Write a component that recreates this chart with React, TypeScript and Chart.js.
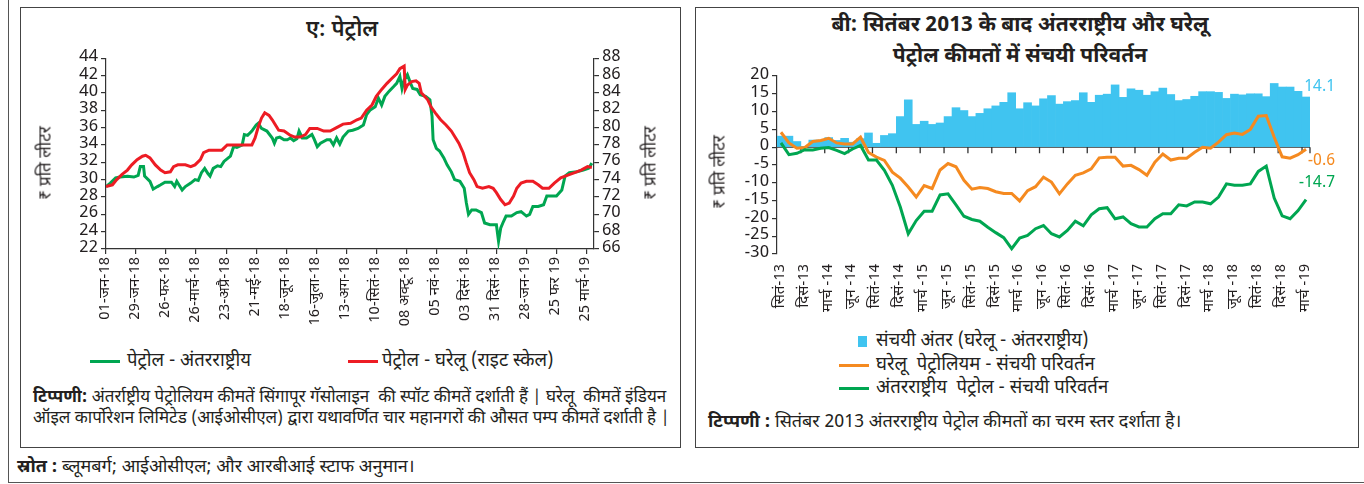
import React, { useEffect, useRef } from 'react';
import { Chart, registerables } from 'chart.js';
Chart.register(...registerables);

const FONT = "'Liberation Sans Narrow', 'Noto Sans Devanagari', 'Noto Sans', 'DejaVu Sans', sans-serif";
const TXT = '#231f20';

// ---------- Panel A: petrol prices (day offsets from 01-Jan-2018) ----------
const leftTickDays = [0, 28, 56, 84, 112, 140, 168, 196, 224, 252, 280, 308, 336, 364, 392, 420, 448];
const leftTickLabels = ['01-जन-18', '29-जन-18', '26-फर-18', '26-मार्च-18', '23-अप्रै-18', '21-मई-18', '18-जून-18', '16-जुला-18', '13-अग-18', '10-सितं-18', '08 अक्टू-18', '05 नवं-18', '03 दिसं-18', '31 दिसं-18', '28-जन-19', '25 फर 19', '25 मार्च-19'];

const intlDays = [0, 4, 9, 13, 20, 26, 30, 32, 35, 36, 41, 44, 48, 51, 55, 61, 64, 66, 69, 71, 74, 79, 83, 86, 89, 92, 95, 97, 100, 104, 107, 110, 116, 119, 122, 127, 129, 132, 136, 140, 142, 145, 150, 155, 157, 159, 162, 166, 169, 172, 175, 178, 180, 183, 187, 192, 194, 197, 200, 206, 209, 212, 215, 218, 221, 226, 230, 235, 240, 243, 246, 251, 254, 257, 260, 264, 268, 271, 274, 276, 278, 281, 284, 286, 290, 293, 298, 302, 304, 305, 308, 311, 315, 318, 322, 325, 330, 334, 336, 338, 341, 345, 350, 353, 358, 364, 366, 368, 370, 373, 378, 383, 387, 392, 395, 398, 403, 408, 411, 415, 420, 425, 428, 432, 439, 445, 450, 453];
const intlPrice = [29.2, 29.6, 30.2, 30.3, 30.4, 30.3, 30.5, 31.5, 31.5, 30.4, 29.8, 28.9, 29.2, 29.4, 29.7, 29.7, 29.2, 29.8, 29.2, 28.8, 29.2, 29.6, 30.0, 29.9, 30.8, 31.3, 30.7, 30.4, 31.3, 31.6, 31.5, 32.1, 32.7, 33.8, 33.7, 34.0, 35.2, 35.1, 35.6, 36.3, 36.5, 35.9, 35.6, 34.8, 34.2, 34.8, 34.9, 34.6, 34.6, 34.8, 34.5, 34.7, 35.6, 34.8, 34.8, 35.2, 34.7, 33.8, 34.2, 34.6, 34.6, 34.0, 34.8, 34.1, 34.9, 35.6, 35.7, 35.9, 36.3, 37.5, 38.0, 38.4, 39.4, 38.6, 39.6, 40.2, 40.7, 41.1, 41.9, 40.5, 41.5, 42.1, 41.1, 40.5, 40.4, 39.8, 39.6, 39.2, 37.3, 34.6, 33.6, 33.3, 32.5, 31.7, 30.9, 30.0, 29.8, 29.0, 27.3, 26.0, 26.5, 26.5, 26.2, 25.0, 24.8, 24.8, 22.9, 24.4, 25.0, 25.8, 25.8, 26.2, 26.3, 25.8, 26.0, 26.9, 26.9, 27.1, 28.1, 28.1, 28.1, 28.8, 30.4, 30.8, 30.9, 31.1, 31.3, 31.9];

const domDays = [0, 6, 10, 15, 20, 24, 29, 34, 37, 41, 46, 51, 55, 60, 63, 67, 74, 79, 83, 88, 91, 96, 102, 108, 113, 122, 131, 136, 139, 142, 145, 148, 152, 155, 158, 161, 166, 172, 176, 181, 186, 190, 197, 203, 209, 215, 221, 228, 234, 238, 243, 248, 252, 257, 262, 266, 271, 274, 278, 279, 281, 285, 289, 292, 294, 300, 303, 307, 312, 317, 322, 326, 329, 333, 336, 339, 343, 346, 351, 357, 361, 364, 368, 372, 376, 380, 383, 387, 392, 398, 403, 407, 413, 418, 424, 430, 437, 443, 449, 453];
const domPrice = [73.2, 73.4, 74.0, 74.6, 75.1, 75.7, 76.3, 76.7, 76.8, 76.5, 75.7, 75.1, 74.8, 74.9, 75.5, 75.7, 75.7, 75.5, 75.7, 76.3, 77.1, 77.4, 77.4, 77.4, 78.0, 78.0, 78.0, 78.0, 78.8, 80.1, 81.1, 81.7, 81.4, 80.9, 80.3, 79.7, 79.6, 79.1, 78.9, 78.9, 79.2, 79.9, 79.9, 79.6, 79.6, 80.0, 80.4, 80.5, 80.9, 81.1, 82.0, 82.6, 83.6, 84.4, 85.1, 85.6, 86.2, 86.8, 87.1, 84.4, 84.9, 85.3, 85.4, 85.1, 84.0, 83.2, 82.4, 81.7, 80.9, 80.3, 79.6, 78.8, 78.2, 77.1, 75.9, 74.8, 74.0, 73.2, 73.0, 73.2, 73.0, 72.5, 71.7, 71.1, 71.3, 72.1, 73.0, 73.6, 73.8, 73.8, 73.4, 73.0, 73.0, 73.6, 74.2, 74.5, 74.8, 75.1, 75.5, 75.4];

// ---------- Panel B: cumulative change since Sep-2013 (monthly) ----------
const months = [
  'सितं-13', 'अक्टू-13', 'नवं-13', 'दिसं-13', 'जन-14', 'फर-14', 'मार्च -14', 'अप्रै-14', 'मई-14', 'जून -14', 'जुला-14', 'अग-14',
  'सितं-14', 'अक्टू-14', 'नवं-14', 'दिसं-14', 'जन-15', 'फर-15', 'मार्च -15', 'अप्रै-15', 'मई-15', 'जून -15', 'जुला-15', 'अग-15',
  'सितं-15', 'अक्टू-15', 'नवं-15', 'दिसं-15', 'जन-16', 'फर-16', 'मार्च -16', 'अप्रै-16', 'मई-16', 'जून -16', 'जुला-16', 'अग-16',
  'सितं-16', 'अक्टू-16', 'नवं-16', 'दिसं-16', 'जन-17', 'फर-17', 'मार्च -17', 'अप्रै-17', 'मई-17', 'जून -17', 'जुला-17', 'अग-17',
  'सितं-17', 'अक्टू-17', 'नवं-17', 'दिसं-17', 'जन-18', 'फर-18', 'मार्च -18', 'अप्रै-18', 'मई-18', 'जून -18', 'जुला-18', 'अग-18',
  'सितं-18', 'अक्टू-18', 'नवं-18', 'दिसं-18', 'जन-19', 'फर-19', 'मार्च -19'
];
const gapBars = [3.1, 3.1, 1.6, 0.2, 2.0, 2.0, 2.7, 1.9, 2.5, 1.4, 2.4, 4.0, 1.1, 3.3, 3.8, 8.6, 13.3, 6.4, 7.3, 6.4, 6.8, 8.6, 11.1, 10.3, 8.6, 9.5, 10.8, 11.6, 12.6, 15.3, 10.8, 12.5, 11.6, 13.6, 14.5, 12.1, 12.8, 13.1, 15.3, 12.6, 14.6, 14.9, 17.5, 14.0, 16.4, 16.0, 14.6, 15.6, 16.6, 14.8, 13.1, 13.4, 14.3, 15.6, 15.6, 15.4, 13.7, 14.9, 14.7, 15.0, 15.0, 14.2, 17.9, 16.9, 16.9, 15.7, 14.1];
const domestic = [4.2, 1.2, -0.3, -0.1, 1.6, 1.9, 2.5, 1.2, 0.9, 0.9, 2.8, -1.5, -2.8, -3.7, -7.0, -8.7, -11.2, -14.0, -10.8, -11.6, -6.4, -4.6, -5.5, -9.3, -11.8, -11.3, -11.6, -12.5, -13.0, -13.0, -15.1, -12.2, -11.1, -8.4, -9.8, -13.1, -10.3, -7.9, -7.2, -6.1, -3.0, -2.8, -2.8, -5.3, -5.1, -6.3, -7.9, -4.2, -1.9, -3.6, -3.1, -3.1, -1.4, 0.0, -0.3, 1.4, 3.5, 4.0, 3.6, 5.0, 8.7, 8.9, 2.8, -2.7, -3.1, -2.1, -0.6];
const international = [1.2, -2.1, -1.7, -0.7, -0.8, -0.3, -0.1, -0.9, -1.8, -0.5, 0.5, -3.6, -3.6, -6.5, -10.7, -16.8, -24.3, -20.6, -18.0, -18.0, -13.4, -13.1, -16.2, -19.4, -20.3, -20.8, -22.5, -24.0, -25.4, -28.5, -25.5, -24.8, -22.9, -22.0, -24.3, -25.2, -23.4, -20.8, -22.1, -19.0, -17.3, -17.0, -20.1, -19.6, -21.5, -22.4, -22.4, -20.1, -18.7, -18.7, -16.2, -16.5, -15.4, -15.4, -15.9, -14.0, -10.3, -10.7, -10.7, -10.3, -6.8, -5.3, -14.3, -19.3, -20.1, -17.8, -14.7];

const GREEN = '#00a651';
const RED = '#ed1c24';
const ORANGE = '#f58a20';
const BLUE = '#40c4f0';
const AXIS = '#333333';

function LeftChart() {
  const ref = useRef<HTMLCanvasElement>(null);
  useEffect(() => {
    const chart = new Chart(ref.current as HTMLCanvasElement, {
      type: 'line',
      data: {
        datasets: [
          { label: 'dom', data: domDays.map((d, i) => ({ x: d, y: domPrice[i] })), yAxisID: 'y2', borderColor: RED, borderWidth: 3, pointRadius: 0, tension: 0, order: 1 },
          { label: 'intl', data: intlDays.map((d, i) => ({ x: d, y: intlPrice[i] })), yAxisID: 'y', borderColor: GREEN, borderWidth: 3, pointRadius: 0, tension: 0, order: 2 },
        ],
      },
      options: {
        animation: false,
        responsive: false,
        maintainAspectRatio: false,
        layout: { padding: { top: 13, left: 0, right: 0, bottom: 0 } },
        plugins: { legend: { display: false }, tooltip: { enabled: false } },
        scales: {
          x: {
            type: 'linear', min: 0, max: 455,
            afterBuildTicks: (axis: any) => { axis.ticks = leftTickDays.map((v) => ({ value: v })); },
            afterFit: (s: any) => { s.height = 86; },
            ticks: {
              autoSkip: false, minRotation: 90, maxRotation: 90, padding: 3, color: TXT,
              font: { family: FONT, size: 15 },
              callback: (v: any) => { const i = leftTickDays.indexOf(Number(v)); return i >= 0 ? leftTickLabels[i] : ''; },
            },
            grid: { drawOnChartArea: false, drawTicks: true, tickLength: 5, color: AXIS, lineWidth: 1.2 },
            border: { display: true, color: AXIS, width: 1.2 },
          },
          y: {
            position: 'left', min: 22, max: 44,
            afterFit: (s: any) => { s.width = 86; },
            ticks: { stepSize: 2, autoSkip: false, color: TXT, padding: 3, font: { family: FONT, size: 17 } },
            grid: { drawOnChartArea: false, drawTicks: true, tickLength: 5, color: AXIS, lineWidth: 1.2 },
            border: { display: true, color: AXIS, width: 1.2 },
          },
          y2: {
            position: 'right', min: 66, max: 88,
            afterFit: (s: any) => { s.width = 66; },
            ticks: { stepSize: 2, autoSkip: false, color: TXT, padding: 3, font: { family: FONT, size: 17 } },
            grid: { drawOnChartArea: false, drawTicks: true, tickLength: 5, color: AXIS, lineWidth: 1.2 },
            border: { display: true, color: AXIS, width: 1.2 },
          },
        },
      },
    } as any);
    return () => chart.destroy();
  }, []);
  return <canvas ref={ref} width={640} height={290} style={{ position: 'absolute', left: 20, top: 45, width: 640, height: 290 }} />;
}

const zeroLinePlugin = {
  id: 'zeroLine',
  beforeDatasetsDraw(chart: any) {
    const { ctx, chartArea, scales } = chart;
    const x = scales.x;
    const y = scales.y;
    const y0 = y.getPixelForValue(0);
    const w = (chartArea.right - chartArea.left) / months.length;
    ctx.save();
    ctx.strokeStyle = AXIS;
    ctx.lineWidth = 1.3;
    ctx.beginPath();
    ctx.moveTo(chartArea.left, y0);
    ctx.lineTo(chartArea.right, y0);
    for (let i = 3; i <= months.length; i += 3) {
      const px = i < months.length ? x.getPixelForValue(i) - w / 2 : chartArea.right;
      ctx.moveTo(px, y0);
      ctx.lineTo(px, y0 + 6);
    }
    ctx.moveTo(chartArea.right, y0);
    ctx.lineTo(chartArea.right, y0 + 6);
    ctx.stroke();
    ctx.restore();
  },
  afterDatasetsDraw(chart: any) {
    const { ctx, scales } = chart;
    const y = scales.y;
    const xr = 1335 - 695;
    const items = [
      { v: gapBars[gapBars.length - 1], c: BLUE, dy: -9 },
      { v: domestic[domestic.length - 1], c: ORANGE, dy: 13 },
      { v: international[international.length - 1], c: GREEN, dy: -16 },
    ];
    ctx.save();
    ctx.font = `16px ${FONT}`;
    ctx.textAlign = 'right';
    ctx.textBaseline = 'middle';
    items.forEach((it) => {
      ctx.fillStyle = it.c;
      ctx.fillText(it.v.toFixed(1), xr, y.getPixelForValue(it.v) + it.dy);
    });
    ctx.restore();
  },
};

function RightChart() {
  const ref = useRef<HTMLCanvasElement>(null);
  useEffect(() => {
    const chart = new Chart(ref.current as HTMLCanvasElement, {
      type: 'bar',
      data: {
        labels: months,
        datasets: [
          { type: 'line', label: 'intl', data: international, borderColor: GREEN, borderWidth: 3, pointRadius: 0, tension: 0, order: 1 },
          { type: 'line', label: 'dom', data: domestic, borderColor: ORANGE, borderWidth: 3, pointRadius: 0, tension: 0, order: 2 },
          { type: 'bar', label: 'gap', data: gapBars, backgroundColor: BLUE, borderWidth: 0, barPercentage: 1, categoryPercentage: 1, order: 3 },
        ],
      },
      options: {
        animation: false,
        responsive: false,
        maintainAspectRatio: false,
        layout: { padding: { top: 16, left: 0, right: 45, bottom: 0 } },
        plugins: { legend: { display: false }, tooltip: { enabled: false } },
        scales: {
          x: {
            type: 'category', offset: true,
            afterFit: (s: any) => { s.height = 66; },
            ticks: {
              autoSkip: false, minRotation: 90, maxRotation: 90, padding: 2, color: TXT,
              font: { family: FONT, size: 15 },
              callback: (_v: any, i: number) => (i % 3 === 0 ? months[i] : ''),
            },
            grid: { display: false },
            border: { display: false },
          },
          y: {
            min: -30, max: 20,
            afterFit: (s: any) => { s.width = 82; },
            ticks: { stepSize: 5, autoSkip: false, color: TXT, padding: 3, font: { family: FONT, size: 17 } },
            grid: { drawOnChartArea: false, drawTicks: true, tickLength: 5, color: AXIS, lineWidth: 1.2 },
            border: { display: true, color: AXIS, width: 1.2 },
          },
        },
      },
      plugins: [zeroLinePlugin],
    } as any);
    return () => chart.destroy();
  }, []);
  return <canvas ref={ref} width={660} height={260} style={{ position: 'absolute', left: 695, top: 60, width: 660, height: 260 }} />;
}

const base: React.CSSProperties = { position: 'absolute', whiteSpace: 'nowrap', color: TXT, fontFamily: FONT, lineHeight: 1 };

function Txt(props: { x: number; y: number; size: number; bold?: boolean; center?: boolean; color?: string; children: React.ReactNode }) {
  return (
    <div style={{ ...base, left: props.x, top: props.y, fontSize: props.size, fontWeight: props.bold ? 700 : 400, color: props.color || TXT, transform: props.center ? 'translate(-50%, -50%)' : 'translate(0, -50%)' }}>
      {props.children}
    </div>
  );
}

function VTitle(props: { x: number; y: number; children: React.ReactNode }) {
  return (
    <div style={{ ...base, left: props.x, top: props.y, fontSize: 17, transform: 'translate(-50%, -50%) rotate(-90deg)' }}>{props.children}</div>
  );
}

function LineKey(props: { x: number; y: number; color: string }) {
  return <div style={{ position: 'absolute', left: props.x, top: props.y - 1.5, width: 30, height: 3.5, background: props.color }} />;
}

export default function App() {
  return (
    <div style={{ position: 'absolute', left: 0, top: 0, width: 1364, height: 484, background: '#fff', overflow: 'hidden', fontFamily: FONT }}>
      {/* outer frame */}
      <div style={{ position: 'absolute', left: 8, top: -4, width: 1400, height: 485, border: '1.5px solid #555' }} />
      {/* panel boxes */}
      <div style={{ position: 'absolute', left: 20, top: 7, width: 659, height: 439, border: '1.5px solid #444' }} />
      <div style={{ position: 'absolute', left: 695, top: 7, width: 662, height: 439, border: '1.5px solid #444' }} />

      {/* Panel A */}
      <div style={{ ...base, left: 342, top: 31, fontSize: 22, fontWeight: 600, transform: 'translate(-50%, -50%)' }}>ए: पेट्रोल</div>
      <LeftChart />
      <VTitle x={47} y={163}>₹ प्रति लीटर</VTitle>
      <VTitle x={652} y={163}>₹ प्रति लीटर</VTitle>
      <LineKey x={90} y={361} color={GREEN} />
      <Txt x={127} y={362} size={18.5}>पेट्रोल - अंतरराष्ट्रीय</Txt>
      <LineKey x={348} y={361} color={RED} />
      <Txt x={382} y={362} size={18.5}>पेट्रोल - घरेलू (राइट स्केल)</Txt>
      <Txt x={33} y={398} size={17}><b>टिप्पणी:</b> अंतर्राष्ट्रीय पेट्रोलियम कीमतें सिंगापूर गॅसोलाइन &nbsp;की स्पॉट कीमतें दर्शाती हैं | घरेलू &nbsp;कीमतें इंडियन</Txt>
      <Txt x={33} y={419} size={17}>ऑइल कार्पोरेशन लिमिटेड (आईओसीएल) द्वारा यथावर्णित चार महानगरों की औसत पम्प कीमतें दर्शाती है |</Txt>

      {/* Panel B */}
      <div style={{ ...base, left: 1020, top: 26, fontSize: 21, fontWeight: 700, transform: 'translate(-50%, -50%)' }}>बी: सितंबर 2013 के बाद अंतरराष्ट्रीय और घरेलू</div>
      <div style={{ ...base, left: 1020, top: 57, fontSize: 21, fontWeight: 700, transform: 'translate(-50%, -50%)' }}>पेट्रोल कीमतों में संचयी परिवर्तन</div>
      <RightChart />
      <VTitle x={721} y={172}>₹ प्रति लीटर</VTitle>
      <div style={{ position: 'absolute', left: 858, top: 336, width: 9, height: 11, background: BLUE }} />
      <Txt x={876} y={342} size={18.5}>संचयी अंतर (घरेलू - अंतरराष्ट्रीय)</Txt>
      <LineKey x={839} y={365} color={ORANGE} />
      <Txt x={876} y={366} size={18.5}>घरेलू &nbsp;पेट्रोलियम - संचयी परिवर्तन</Txt>
      <LineKey x={839} y={388} color={GREEN} />
      <Txt x={876} y={389} size={18.5}>अंतरराष्ट्रीय &nbsp;पेट्रोल - संचयी परिवर्तन</Txt>
      <Txt x={708} y={423} size={18}><b>टिप्पणी :</b> सितंबर 2013 अंतरराष्ट्रीय पेट्रोल कीमतों का चरम स्तर दर्शाता है।</Txt>

      {/* Source */}
      <Txt x={17} y={468} size={18}><b>स्रोत :</b> ब्लूमबर्ग; आईओसीएल; और आरबीआई स्टाफ अनुमान।</Txt>
    </div>
  );
}
